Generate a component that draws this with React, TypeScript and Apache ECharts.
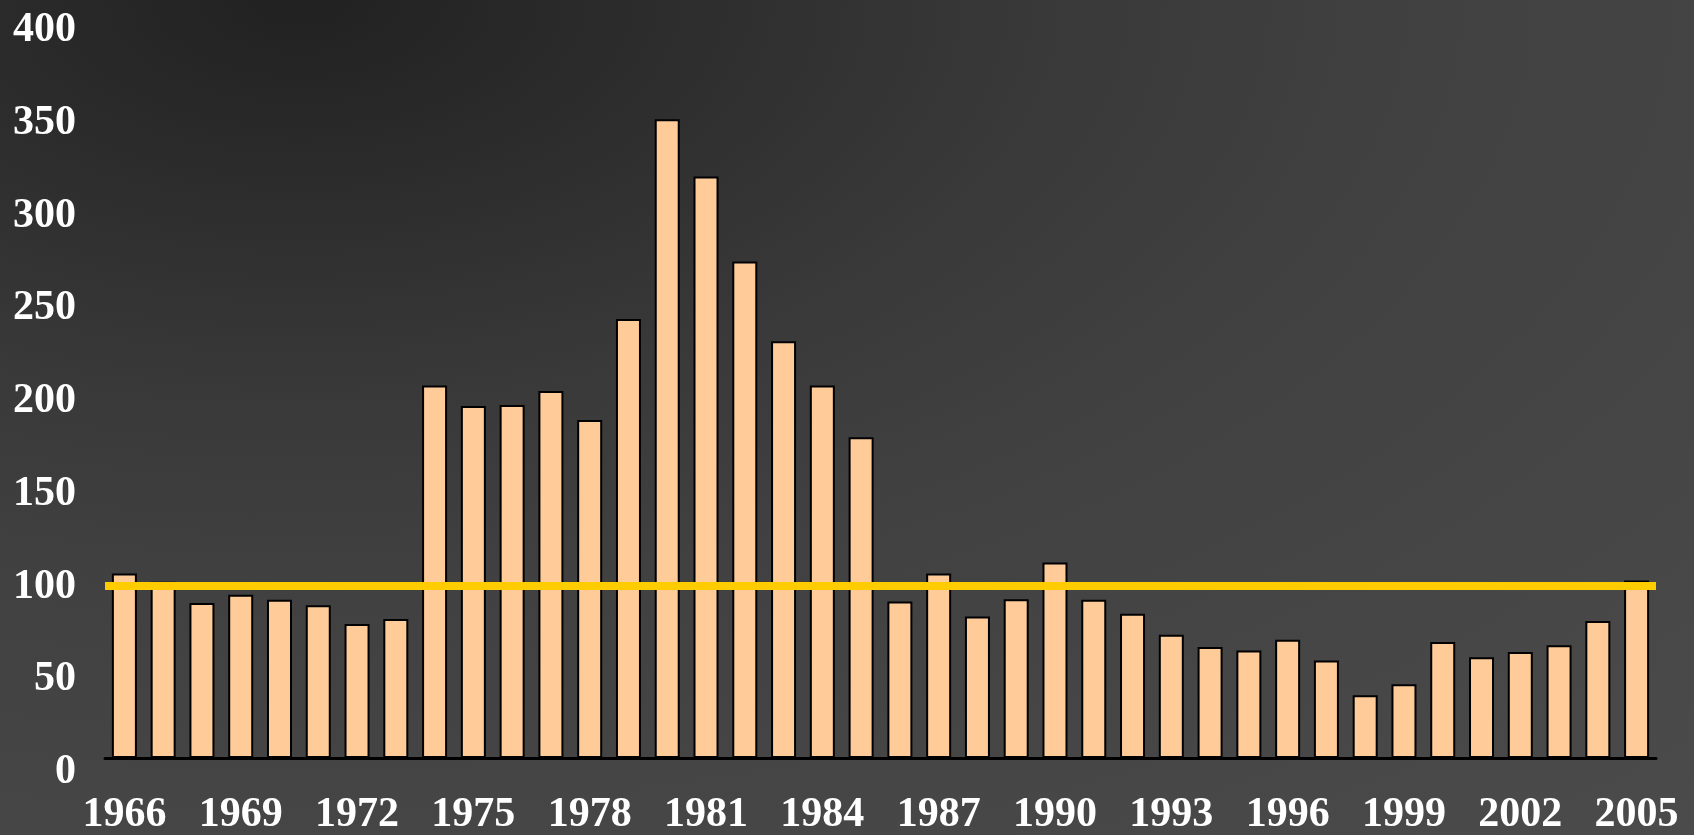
import React, { useEffect, useRef } from "react";
import * as echarts from "echarts";

const years: string[] = [
  "1966", "1967", "1968", "1969", "1970", "1971", "1972", "1973", "1974", "1975",
  "1976", "1977", "1978", "1979", "1980", "1981", "1982", "1983", "1984", "1985",
  "1986", "1987", "1988", "1989", "1990", "1991", "1992", "1993", "1994", "1995",
  "1996", "1997", "1998", "1999", "2000", "2001", "2002", "2003", "2004", "2005",
];

const values: number[] = [
  99.5, 95, 83.5, 88, 85.3, 82.3, 72.3, 74.9, 200.8, 189.8,
  190.3, 197.9, 182.2, 236.7, 344.3, 313.5, 267.7, 224.6, 200.8, 172.9,
  84.4, 99.5, 76.3, 85.6, 105.4, 85.3, 77.7, 66.5, 59.9, 57.9,
  63.7, 52.5, 33.8, 39.7, 62.5, 54.3, 57.2, 60.8, 73.8, 95.7,
];

const referenceLevel = 93;

const yMin = 0;
const yMax = 400;
const yInterval = 50;

const labelFont = "'Times New Roman', 'Liberation Serif', serif";

export default function App() {
  const ref = useRef<HTMLDivElement | null>(null);

  useEffect(() => {
    if (!ref.current) return;
    const chart = echarts.init(ref.current, null, { renderer: "svg" });
    chart.setOption({
      animation: false,
      backgroundColor: "transparent",
      grid: {
        left: 105,
        right: 38,
        top: 16,
        bottom: 77,
        containLabel: false,
        outerBoundsMode: "none",
      },
      xAxis: {
        type: "category",
        data: years,
        axisLine: { show: true, lineStyle: { color: "#000000", width: 3 } },
        axisTick: { show: false },
        splitLine: { show: false },
        axisLabel: {
          interval: 2,
          color: "#ffffff",
          fontSize: 42,
          fontWeight: "bold",
          fontFamily: labelFont,
          margin: 33,
        },
      },
      yAxis: {
        type: "value",
        min: yMin,
        max: yMax,
        interval: yInterval,
        axisLine: { show: false },
        axisTick: { show: false },
        splitLine: { show: false },
        axisLabel: {
          color: "#ffffff",
          fontSize: 42,
          fontWeight: "bold",
          fontFamily: labelFont,
          margin: 29,
          verticalAlign: "middle",
          lineHeight: 22,
          formatter: (v: number) => "\n" + v,
        },
      },
      series: [
        {
          type: "bar",
          data: values,
          barWidth: 25,
          itemStyle: { color: "#FFCC99", borderColor: "#000000", borderWidth: 2 },
          markLine: {
            silent: true,
            symbol: ["none", "none"],
            label: { show: false },
            lineStyle: { color: "#FFCC00", width: 8, type: "solid" },
            data: [{ yAxis: referenceLevel }],
          },
        },
      ],
    });
    return () => chart.dispose();
  }, []);

  return (
    <div
      ref={ref}
      style={{
        position: "fixed",
        left: 0,
        top: 0,
        width: 1694,
        height: 835,
        background:
          "radial-gradient(1500px 800px at 300px 0px, #212121 0%, #393939 50%, #414141 75%, #454545 100%, #4b4b4b 140%)",
      }}
    />
  );
}
